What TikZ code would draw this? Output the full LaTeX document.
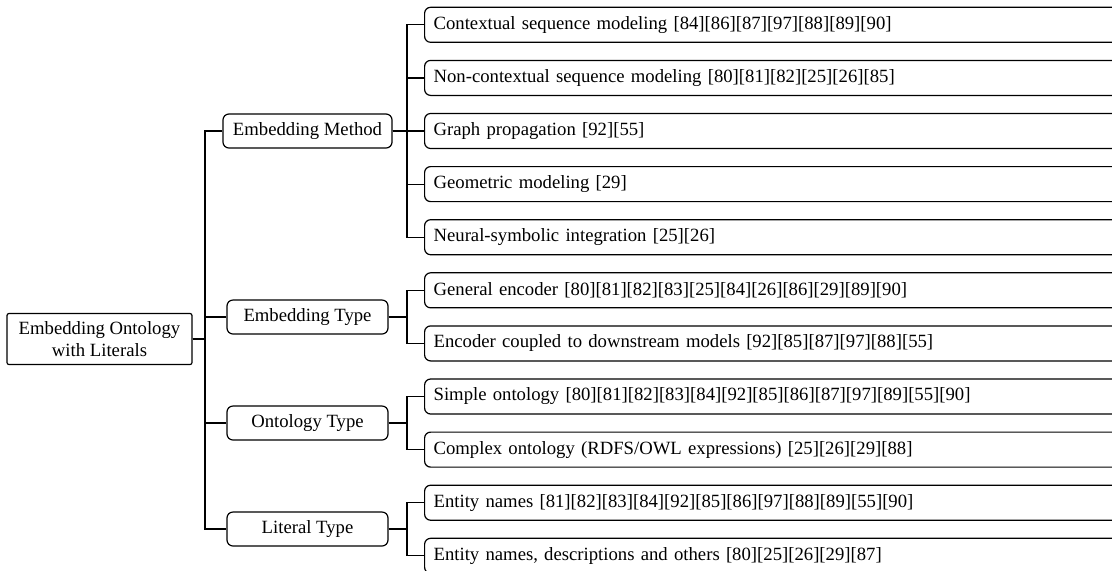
\documentclass[tikz,border=0pt]{standalone}
\usepackage{fontspec}
\setmainfont{Liberation Serif}
\usetikzlibrary{calc}

\tikzset{
  rootbox/.style={draw, rounded corners=1pt, align=center, minimum width=92.5pt, minimum height=25.5pt, inner sep=2pt},
  catbox/.style={draw, rounded corners=3pt, minimum width=80.5pt, minimum height=17pt, inner xsep=5pt, inner ysep=0pt},
  leafbox/.style={draw, rounded corners=3pt, anchor=west, text width=370pt, align=left, minimum height=17.5pt, inner xsep=4.5pt, inner ysep=0pt},
  treeline/.style={line width=0.6pt}
}

\begin{document}
\begin{tikzpicture}[x=0.5pt, y=-0.5pt, font=\fontsize{9.35}{11}\selectfont, line width=0.6pt]
\useasboundingbox (0,0) rectangle (1112,570);

\node [rootbox] (root) at (99.5,339) {Embedding Ontology\\with Literals};

\node [catbox] (em) at (307.5,131) {Embedding Method};
\node [catbox] (et) at (307.5,317) {Embedding Type};
\node [catbox] (ot) at (307.5,423) {Ontology Type};
\node [catbox] (lt) at (307.5,529) {Literal Type};

\foreach \i/\txt in {
  0/{Contextual sequence modeling [84][86][87][97][88][89][90]},
  1/{Non-contextual sequence modeling [80][81][82][25][26][85]},
  2/{Graph propagation [92][55]},
  3/{Geometric modeling [29]},
  4/{Neural-symbolic integration [25][26]},
  5/{General encoder [80][81][82][83][25][84][26][86][29][89][90]},
  6/{Encoder coupled to downstream models [92][85][87][97][88][55]},
  7/{Simple ontology [80][81][82][83][84][92][85][86][87][97][89][55][90]},
  8/{Complex ontology (RDFS/OWL expressions) [25][26][29][88]},
  9/{Entity names [81][82][83][84][92][85][86][97][88][89][55][90]},
  10/{Entity names, descriptions and others [80][25][26][29][87]}}
  \node [leafbox] (l\i) at (424,{24.8+53.1*\i}) {\txt};

\coordinate (b0) at (205,0);
\coordinate (b1) at (407,0);

\foreach \c in {em,et,ot,lt}
  \draw [treeline] (root.east) -- (root.east -| b0) |- (\c.west);

\foreach \p/\l in {em/0,em/1,em/2,em/3,em/4,et/5,et/6,ot/7,ot/8,lt/9,lt/10}
  \draw [treeline] (\p.east) -- (\p.east -| b1) |- (l\l.west);
\end{tikzpicture}
\end{document}
